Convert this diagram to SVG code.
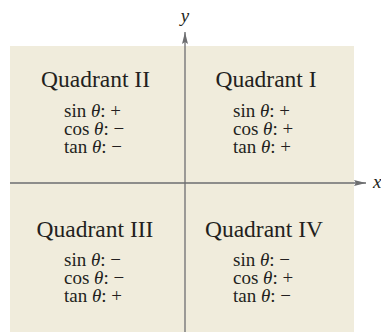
<svg xmlns="http://www.w3.org/2000/svg" width="381" height="333" viewBox="0 0 381 333">
<style>
.title{font-family:"Liberation Serif",serif;font-size:23.5px;fill:#231f20;text-anchor:middle}
.fn{font-family:"Liberation Serif",serif;font-size:19px;fill:#231f20}
.th{font-style:italic}
.ax{font-family:"Liberation Serif",serif;font-size:19px;font-style:italic;fill:#231f20}
.axis{stroke:#6d6e70;stroke-width:1.3;fill:none}
</style>
<defs>
<marker id="arr" viewBox="0 0 12 6" refX="12" refY="3" markerWidth="12" markerHeight="6" markerUnits="userSpaceOnUse" orient="auto">
<path d="M0,0 L12,3 L0,6 L2,3 Z" fill="#6d6e70"/>
</marker>
</defs>
<rect x="10" y="46" width="344" height="286" fill="#f0ecdc"/>
<g id="connectors">
<line class="axis" x1="10" y1="183" x2="366" y2="183" marker-end="url(#arr)"/>
<line class="axis" x1="185" y1="332" x2="185" y2="32" marker-end="url(#arr)"/>
</g>
<g id="labels">
<text class="ax" x="185" y="22" text-anchor="middle">y</text>
<text class="ax" x="373" y="188">x</text>
</g>
<g id="q2">
<text class="title" x="95.5" y="87">Quadrant II</text>
<text class="fn" x="64" y="117">sin <tspan class="th">θ</tspan>: +</text>
<text class="fn" x="64" y="135">cos <tspan class="th">θ</tspan>: −</text>
<text class="fn" x="64" y="153">tan <tspan class="th">θ</tspan>: −</text>
</g>
<g id="q1">
<text class="title" x="266" y="87">Quadrant I</text>
<text class="fn" x="233" y="117">sin <tspan class="th">θ</tspan>: +</text>
<text class="fn" x="233" y="135">cos <tspan class="th">θ</tspan>: +</text>
<text class="fn" x="233" y="153">tan <tspan class="th">θ</tspan>: +</text>
</g>
<g id="q3">
<text class="title" x="95" y="237">Quadrant III</text>
<text class="fn" x="64" y="266">sin <tspan class="th">θ</tspan>: −</text>
<text class="fn" x="64" y="284">cos <tspan class="th">θ</tspan>: −</text>
<text class="fn" x="64" y="302">tan <tspan class="th">θ</tspan>: +</text>
</g>
<g id="q4">
<text class="title" x="264" y="237">Quadrant IV</text>
<text class="fn" x="233" y="266">sin <tspan class="th">θ</tspan>: −</text>
<text class="fn" x="233" y="284">cos <tspan class="th">θ</tspan>: +</text>
<text class="fn" x="233" y="302">tan <tspan class="th">θ</tspan>: −</text>
</g>
</svg>
